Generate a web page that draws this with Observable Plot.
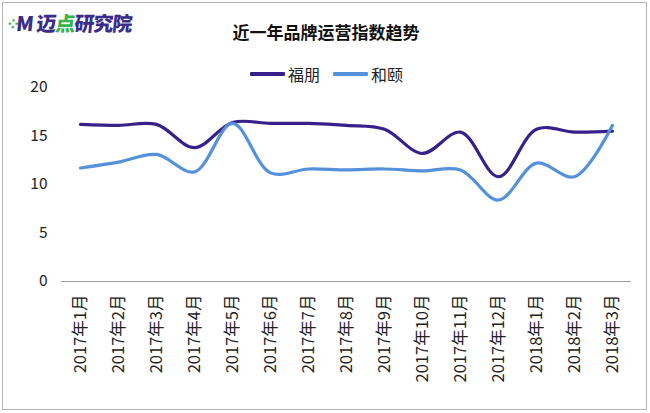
<!DOCTYPE html>
<html>
<head>
<meta charset="utf-8">
<script src="https://cdn.jsdelivr.net/npm/d3@7"></script>
<script src="https://cdn.jsdelivr.net/npm/@observablehq/plot@0.6"></script>
<style>
  html, body { margin: 0; padding: 0; background: #fff; }
  #frame {
    position: relative; width: 650px; height: 413px; box-sizing: border-box;
    font-family: "Noto Sans CJK SC", "Noto Sans", sans-serif; overflow: hidden;
  }
  #border { position: absolute; left: 2px; top: 2px; width: 645px; height: 408px;
    box-sizing: border-box; border: 1.5px solid #b4b4b4; }
  #logo { position: absolute; left: 8px; top: 8px; font-size: 20px; font-weight: 900;
    color: #3b2c8c; letter-spacing: -1px; transform: skewX(-6deg); }
  #logo .dot { color: #35b44a; font-size: 12px; vertical-align: 3px; margin-right: -1px; }
  #logo .g { color: #35b44a; }
  #title { position: absolute; left: 0; width: 652px; top: 19px; text-align: center;
    font-size: 17px; font-weight: bold; color: #111; }
  #legend { position: absolute; top: 62px; left: 250px; font-size: 16px; color: #222;
    display: flex; align-items: center; }
  #legend .sw { display: inline-block; width: 35px; height: 3.5px; margin-right: 3px; border-radius: 1px; }
  #legend .item { display: flex; align-items: center; margin-right: 13px; }
  #chart { position: absolute; left: 0; top: 70px; }
</style>
</head>
<body>
<div id="frame">
  <div id="border"></div>
  <div id="logo"><span class="dot">⁘</span>M 迈<span class="g">点</span>研究院</div>
  <div id="title">近一年品牌运营指数趋势</div>
  <div id="legend"></div>
  <div id="chart"></div>
</div>
<script>
const months = ["2017年1月","2017年2月","2017年3月","2017年4月","2017年5月","2017年6月","2017年7月","2017年8月","2017年9月","2017年10月","2017年11月","2017年12月","2018年1月","2018年2月","2018年3月"];
const fupeng = [16.2, 16.1, 16.2, 13.8, 16.4, 16.3, 16.3, 16.1, 15.7, 13.2, 15.4, 10.8, 15.7, 15.4, 15.5];
const heyi   = [11.7, 12.3, 13.1, 11.3, 16.3, 11.2, 11.6, 11.5, 11.6, 11.4, 11.5, 8.4, 12.2, 10.8, 16.1];
const yTicks = [0, 5, 10, 15, 20];
const seriesNames = ["福朋", "和颐"];
const colors = ["#36208a", "#5591db"];

const rows = [];
months.forEach((m, i) => {
  rows.push({month: m, value: fupeng[i], series: seriesNames[0]});
  rows.push({month: m, value: heyi[i], series: seriesNames[1]});
});

const legend = document.getElementById("legend");
seriesNames.forEach((s, i) => {
  const it = document.createElement("div");
  it.className = "item";
  it.innerHTML = `<span class="sw" style="background:${colors[i]}"></span><span>${s}</span>`;
  legend.appendChild(it);
});

const chart = Plot.plot({
  width: 650,
  height: 340,
  marginLeft: 61,
  marginRight: 19,
  marginTop: 17,
  marginBottom: 129,
  style: {fontFamily: "'Noto Sans CJK SC', 'Noto Sans', sans-serif", fontSize: "15px", color: "#222", background: "transparent"},
  x: {type: "point", domain: months, padding: 0.5, label: null},
  y: {domain: [0, 20], ticks: yTicks, label: null},
  color: {domain: seriesNames, range: colors},
  marks: [
    Plot.axisY({ticks: yTicks, tickSize: 0, tickPadding: 14, fontSize: 15.5, label: null}),
    Plot.axisX({tickSize: 0, tickRotate: -90, tickPadding: 13, fontSize: 16.5, label: null}),
    Plot.ruleY([0], {stroke: "#a0a0a0", strokeWidth: 1.2}),
    Plot.line(rows, {x: "month", y: "value", z: "series", stroke: "series", strokeWidth: 3.2, curve: "catmull-rom"})
  ]
});
document.getElementById("chart").appendChild(chart);
</script>
</body>
</html>
